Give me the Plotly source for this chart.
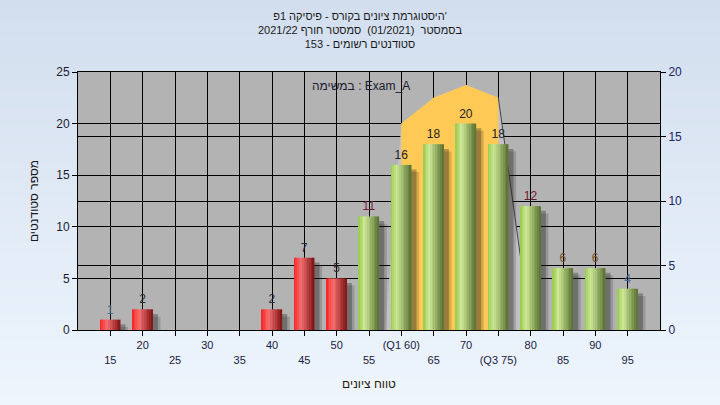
import plotly.graph_objects as go

# ---------------- data ----------------
grades = [15, 20, 25, 30, 35, 40, 45, 50, 55, 60, 65, 70, 75, 80, 85, 90, 95]
counts = [1, 2, 0, 0, 0, 2, 7, 5, 11, 16, 18, 20, 18, 12, 6, 6, 4]
tick_labels = ["15", "20", "25", "30", "35", "40", "45", "50", "55", "(Q1 60)",
               "65", "70", "(Q3 75)", "80", "85", "90", "95"]
iqr_x = [60, 65, 70, 75]
iqr_y = [16, 18, 19, 18]
pass_mark = 55

title_lines = [
    "היסטוגרמת ציונים בקורס - פיסיקה 1פ'",
    "בסמסטר\u00a0 (01/2021)\u00a0 סמסטר חורף 2021/22",
    "סטודנטים רשומים - 153",
]
legend_text = "במשימה : Exam_A"
x_title = "טווח ציונים"
y_title = "מספר סטודנטים"

label_colors = ["#3d6b94", "#2a2a2a", "#000", "#000", "#000", "#2a2a40", "#2a2a3a",
                "#3a2a2a", "#7a1830", "#222222", "#222222", "#222222", "#222222",
                "#6a1830", "#7a5020", "#7a5020", "#4a6a9a"]

FONT = "Liberation Sans, DejaVu Sans, sans-serif"

# ---------------- helpers ----------------
def lerp(c1, c2, t):
    return tuple(int(round(a + (b - a) * t)) for a, b in zip(c1, c2))


def grad(stops, t):
    for (p0, c0), (p1, c1) in zip(stops, stops[1:]):
        if p0 <= t <= p1:
            return lerp(c0, c1, (t - p0) / (p1 - p0))
    return stops[-1][1]


def rgb(c):
    return "rgb(%d,%d,%d)" % c


red_stops = [(0, (252, 30, 30)), (0.35, (242, 112, 112)), (1, (128, 18, 18))]
green_stops = [(0, (150, 200, 75)), (0.3, (205, 232, 150)), (1, (88, 112, 48))]

fig = go.Figure()

# ---- IQR area (right axis, base y) ----
fig.add_trace(go.Scatter(
    x=[iqr_x[0] - 2.5] + iqr_x + [iqr_x[-1] + 5],
    y=[0] + iqr_y + [0],
    fill="toself", fillcolor="#c2c2c2", mode="lines",
    line=dict(width=0, color="#c2c2c2"), yaxis="y", hoverinfo="skip"))
fig.add_trace(go.Scatter(
    x=[iqr_x[0]] + iqr_x + [iqr_x[-1]],
    y=[0] + iqr_y + [0],
    fill="toself", fillcolor="#FFC956", mode="lines",
    line=dict(width=0, color="#FFC956"), yaxis="y", hoverinfo="skip"))
fig.add_trace(go.Scatter(
    x=[iqr_x[-1], iqr_x[-1] + 5], y=[iqr_y[-1], 0],
    mode="lines", line=dict(width=1, color="#454545"), yaxis="y", hoverinfo="skip"))

# ---- bars (left axis, y2 overlay) ----
W = 3.1
fig.add_trace(go.Bar(x=grades, y=counts, base=-0.7, width=W, offset=-W / 2 + 1.2,
                     marker=dict(color="rgba(30,30,30,0.18)", line=dict(width=0)),
                     yaxis="y2", hoverinfo="skip"))
fig.add_trace(go.Bar(x=grades, y=counts, base=-0.45, width=W, offset=-W / 2 + 0.8,
                     marker=dict(color="rgba(30,30,30,0.33)", line=dict(width=0)),
                     yaxis="y2", hoverinfo="skip"))
N = 12
for i in range(N):
    t = (i + 0.5) / N
    cols = [rgb(grad(red_stops, t)) if g < pass_mark else rgb(grad(green_stops, t))
            for g in grades]
    fig.add_trace(go.Bar(x=grades, y=counts, width=W / N * 1.08,
                         offset=-W / 2 + i * W / N,
                         marker=dict(color=cols, line=dict(width=0)),
                         yaxis="y2", hoverinfo="skip"))
fig.add_trace(go.Bar(x=grades, y=counts, width=W,
                     marker=dict(color="rgba(0,0,0,0)", line=dict(width=0)),
                     text=[str(v) if v else "" for v in counts],
                     textposition="outside",
                     textfont=dict(color=label_colors, size=12, family=FONT),
                     cliponaxis=False, yaxis="y2", hoverinfo="skip"))

# ---------------- background ----------------
shapes = []
top_c, bot_c = (210, 222, 238), (238, 245, 253)
H, ML, MB, PW, PH = 405, 78, 75, 582, 258
nb = 45
for i in range(nb):
    p0 = i * H / nb
    p1 = (i + 1) * H / nb + 1
    shapes.append(dict(type="rect", xref="paper", yref="paper",
                       x0=-0.2, x1=1.2,
                       y0=(H - MB - p1) / PH, y1=(H - MB - p0) / PH,
                       fillcolor=rgb(lerp(top_c, bot_c, (i + 0.5) / nb)),
                       line=dict(width=0), layer="below"))
shapes.append(dict(type="rect", xref="paper", yref="paper", x0=0, x1=1, y0=0, y1=1,
                   fillcolor="#b3b3b3", line=dict(width=0), layer="below"))

ticktext = [("<br>" + lab) if i % 2 == 0 else lab for i, lab in enumerate(tick_labels)]

fig.update_layout(
    width=720, height=405, autosize=False,
    margin=dict(l=ML, r=60, t=72, b=MB),
    paper_bgcolor="#e4ecf6", plot_bgcolor="rgba(0,0,0,0)",
    barmode="overlay", showlegend=False,
    font=dict(family=FONT, size=11, color="#1a1a2a"),
    shapes=shapes,
    title=dict(text="<br>".join(title_lines), x=0.5, xanchor="center",
               y=1 - 19.5 / 405, yanchor="middle",
               font=dict(size=11, color="#1a1a1a", family=FONT)),
    xaxis=dict(range=[10, 100], tickmode="array", tickvals=grades, ticktext=ticktext,
               ticks="outside", ticklen=5, tickcolor="black", showline=True,
               linecolor="black", mirror=True, showgrid=True, gridcolor="black",
               gridwidth=1, zeroline=False,
               tickfont=dict(size=11, color="#1a1a40"),
               title=dict(text=x_title, font=dict(size=12, color="#2a1a0a"))),
    yaxis=dict(range=[0, 20], side="right", dtick=5, ticks="outside", ticklen=5,
               tickcolor="black", showline=True, linecolor="black", showgrid=True,
               gridcolor="black", gridwidth=1, zeroline=False,
               tickfont=dict(size=12, color="#1a2660")),
    yaxis2=dict(range=[0, 25], side="left", overlaying="y", dtick=5, ticks="outside",
                ticklen=5, tickcolor="black", showline=True, linecolor="black",
                showgrid=True, gridcolor="black", gridwidth=1, zeroline=False,
                tickfont=dict(size=12, color="#1c1c2c"),
                title=dict(text=y_title, font=dict(size=12, color="#1a1a1a"))),
    annotations=[dict(text=legend_text, x=(361 - ML) / PW, y=(330 - 86) / PH,
                      xref="paper", yref="paper", xanchor="center", yanchor="middle",
                      showarrow=False,
                      font=dict(size=12, color="#1a1a30", family=FONT))],
)

fig.write_html("out.html",
               config={"displayModeBar": False},
               post_script="document.body.style.margin='0';"
                           "document.body.style.overflow='hidden';")
